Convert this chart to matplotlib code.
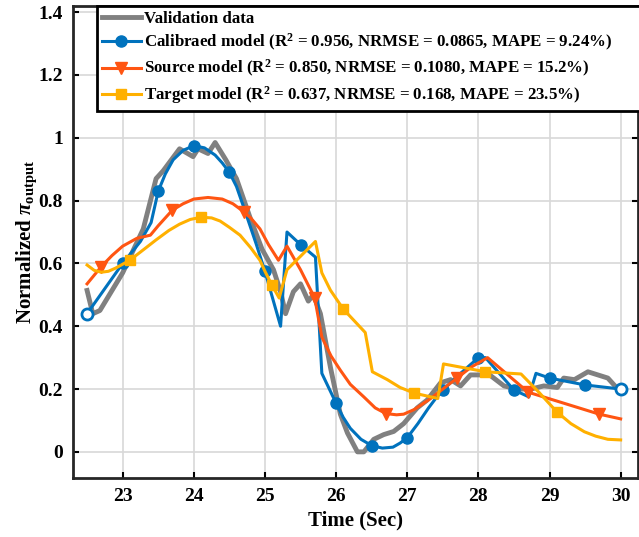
import numpy as np
import matplotlib
matplotlib.use("Agg")
import matplotlib.pyplot as plt
from matplotlib.ticker import FuncFormatter

plt.rcParams['font.family'] = ['Liberation Serif', 'DejaVu Serif']
plt.rcParams['font.weight'] = 'bold'
plt.rcParams['mathtext.fontset'] = 'custom'
plt.rcParams['mathtext.rm'] = 'Liberation Serif:bold'
plt.rcParams['mathtext.it'] = 'Liberation Serif:italic:bold'
plt.rcParams['mathtext.bf'] = 'Liberation Serif:bold'

# Validation data
val_t = [22.5, 22.58, 22.68, 23.0, 23.29, 23.47, 23.57, 23.8, 23.99, 24.06, 24.2, 24.3,
         24.45, 24.6, 24.8, 24.96, 25.12, 25.22, 25.29, 25.4, 25.5, 25.61, 25.68, 25.78,
         25.92, 26.06, 26.16, 26.3, 26.39, 26.53, 26.67, 26.81, 26.95, 27.14, 27.28, 27.47,
         27.61, 27.75, 27.89, 28.03, 28.13, 28.36, 28.55, 28.74, 28.92, 29.11, 29.2, 29.35,
         29.54, 29.82, 29.96]
val_y = [0.514, 0.44, 0.45, 0.57, 0.71, 0.87, 0.895, 0.965, 0.94, 0.965, 0.95, 0.985,
         0.93, 0.87, 0.74, 0.645, 0.58, 0.51, 0.44, 0.51, 0.535, 0.48, 0.50, 0.44,
         0.27, 0.12, 0.06, 0.0, 0.0, 0.04, 0.055, 0.065, 0.09, 0.14, 0.165, 0.22,
         0.23, 0.21, 0.245, 0.245, 0.25, 0.21, 0.20, 0.20, 0.21, 0.205, 0.235, 0.23,
         0.255, 0.235, 0.20]

# Calibrated model
cal_t = [22.5, 23.0, 23.25, 23.4, 23.5, 23.6, 23.71, 23.85, 24.0, 24.15, 24.3, 24.4,
         24.5, 24.6, 24.7, 24.88, 25.0, 25.22, 25.31, 25.5, 25.71, 25.8, 26.0, 26.1,
         26.2, 26.35, 26.5, 26.65, 26.8, 26.9, 27.0, 27.15, 27.3, 27.4, 27.5, 27.75,
         28.0, 28.1, 28.5, 28.71, 28.81, 29.0, 29.5, 30.0]
cal_y = [0.44, 0.60, 0.67, 0.73, 0.83, 0.885, 0.93, 0.96, 0.975, 0.968, 0.945, 0.92,
         0.89, 0.845, 0.78, 0.66, 0.575, 0.40, 0.70, 0.66, 0.62, 0.25, 0.155, 0.11,
         0.075, 0.04, 0.02, 0.012, 0.015, 0.028, 0.045, 0.09, 0.14, 0.17, 0.197, 0.25,
         0.30, 0.30, 0.197, 0.175, 0.25, 0.235, 0.213, 0.20]
cal_marks = [22.5, 23.0, 23.5, 24.0, 24.5, 25.0, 25.5, 26.0, 26.5, 27.0, 27.5, 28.0,
             28.5, 29.0, 29.5, 30.0]

# Source model
src_t = [22.5, 22.7, 22.85, 23.0, 23.2, 23.39, 23.5, 23.7, 23.85, 24.0, 24.2, 24.4,
         24.55, 24.7, 24.8, 24.93, 25.05, 25.19, 25.31, 25.5, 25.7, 25.8, 25.93, 26.06,
         26.2, 26.39, 26.55, 26.7, 26.85, 26.95, 27.1, 27.33, 27.5, 27.7, 27.9, 28.13,
         28.7, 29.2, 29.7, 30.0]
src_y = [0.535, 0.59, 0.625, 0.655, 0.68, 0.69, 0.72, 0.77, 0.79, 0.805, 0.81, 0.805,
         0.79, 0.765, 0.745, 0.71, 0.66, 0.61, 0.655, 0.58, 0.49, 0.365, 0.305, 0.26,
         0.215, 0.175, 0.14, 0.122, 0.118, 0.12, 0.135, 0.17, 0.20, 0.235, 0.27, 0.30,
         0.19, 0.155, 0.12, 0.105]
src_marks = [22.7, 23.7, 24.7, 25.7, 26.7, 27.7, 28.7, 29.7]

# Target model
tgt_t = [22.5, 22.6, 22.7, 22.8, 22.9, 23.1, 23.3, 23.47, 23.65, 23.8, 23.95, 24.1,
         24.25, 24.37, 24.5, 24.65, 24.8, 24.93, 25.0, 25.1, 25.2, 25.31, 25.71, 25.8,
         25.92, 26.1, 26.41, 26.51, 26.72, 26.9, 27.1, 27.43, 27.51, 28.1, 28.6, 28.85,
         29.1, 29.3, 29.49, 29.65, 29.82, 30.0]
tgt_y = [0.595, 0.578, 0.572, 0.575, 0.585, 0.61, 0.645, 0.675, 0.705, 0.725, 0.74, 0.747,
         0.745, 0.735, 0.715, 0.69, 0.65, 0.61, 0.575, 0.53, 0.49, 0.58, 0.67, 0.57,
         0.515, 0.455, 0.38, 0.255, 0.23, 0.205, 0.187, 0.17, 0.28, 0.255, 0.248, 0.19,
         0.128, 0.09, 0.064, 0.05, 0.04, 0.038]
tgt_marks = [23.1, 24.1, 25.1, 26.1, 27.1, 28.1, 29.1]

labels = ['Validation data',
          'Calibraed model (R$^{2}$ = 0.956, NRMSE = 0.0865, MAPE = 9.24%)',
          'Source model (R$^{2}$ = 0.850, NRMSE = 0.1080, MAPE = 15.2%)',
          'Target model (R$^{2}$ = 0.637, NRMSE = 0.168, MAPE = 23.5%)']

c_gray = '#808080'
c_blue = '#0072BD'
c_orange = '#FF5512'
c_yellow = '#FFB000'


def mark_idx(ts, marks):
    return [i for i, t in enumerate(ts) if any(abs(t - m) < 1e-9 for m in marks)]


fig = plt.figure(figsize=(6.39, 5.37), dpi=100)
ax = fig.add_axes([0.114, 0.110, 0.884, 0.879])

ax.plot(val_t, val_y, color=c_gray, lw=3.5, label=labels[0], zorder=2)
ci = mark_idx(cal_t, cal_marks)
inner = ci[1:-1]
ax.plot(cal_t, cal_y, color=c_blue, lw=2.2, marker='o', ms=8, markevery=inner,
        label=labels[1], zorder=3)
ends = [ci[0], ci[-1]]
ax.plot([cal_t[i] for i in ends], [cal_y[i] for i in ends], ls='none', marker='o', ms=8,
        mfc='white', mec=c_blue, mew=2.0, zorder=3)
ax.plot(src_t, src_y, color=c_orange, lw=2.2, marker='v', ms=9,
        markevery=mark_idx(src_t, src_marks), label=labels[2], zorder=3)
ax.plot(tgt_t, tgt_y, color=c_yellow, lw=2.2, marker='s', ms=7,
        markevery=mark_idx(tgt_t, tgt_marks), label=labels[3], zorder=3)

ax.set_xlim(22.3, 30.24)
ax.set_ylim(-0.083, 1.42)
ax.set_xticks([23, 24, 25, 26, 27, 28, 29, 30])
ax.set_yticks([0, 0.2, 0.4, 0.6, 0.8, 1.0, 1.2, 1.4])
ax.yaxis.set_major_formatter(FuncFormatter(lambda v, p: ('%g' % round(v, 2))))
ax.grid(True, color='#d8d8d8', lw=1.2)
ax.set_axisbelow(True)
ax.tick_params(direction='in', length=4, width=1.5, top=True, right=True,
               labelsize=14, pad=7)
for lab in ax.get_xticklabels() + ax.get_yticklabels():
    lab.set_fontweight('bold')
for s in ax.spines.values():
    s.set_linewidth(2.0)
    s.set_color('#262626')

ax.set_xlabel('Time (Sec)', fontsize=15, fontweight='bold', labelpad=4)
ax.set_ylabel(r'Normalized $\pi_{\mathrm{output}}$', fontsize=15, fontweight='bold',
              labelpad=0)

leg = ax.legend(loc='upper left', bbox_to_anchor=(0.0425, 0.0, 0.99, 1.0), mode='expand',
                fontsize=12.2, frameon=True, fancybox=False, framealpha=1,
                edgecolor='black', borderpad=0.3, labelspacing=0.3, handlelength=2.3,
                handletextpad=0.2, borderaxespad=0.0)
leg.get_frame().set_linewidth(2.0)
for t in leg.get_texts():
    t.set_fontweight('bold')

fig.savefig('out.png', dpi=100)
